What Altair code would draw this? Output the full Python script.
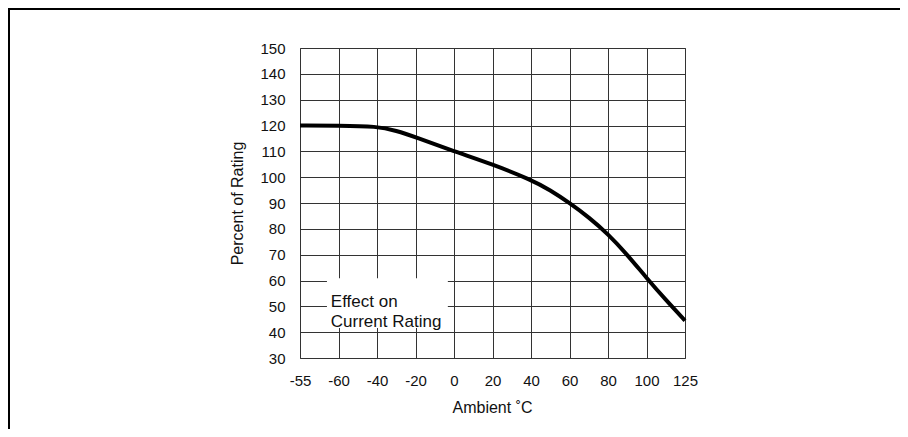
import altair as alt
import pandas as pd

# Axis tick labels (printed as in the original, equally spaced)
x_labels = ["-55", "-60", "-40", "-20", "0", "20", "40", "60", "80", "100", "125"]
x_positions = list(range(len(x_labels)))
y_ticks = list(range(30, 151, 10))

# Curve (x as position along the label grid)
curve_x = [0, 1, 2, 2.5, 3, 4, 5, 6, 6.5, 7, 7.5, 8, 8.5, 9, 9.5, 10]
curve_y = [120, 120, 119.7, 118, 115.5, 110, 105, 99, 95, 90, 84.5, 78, 70, 61, 52.5, 44.5]

# Annotation box and text
box_x = [0.70]
box_x2 = [3.84]
box_y = [41.6]
box_y2 = [60.9]
note_x = [0.8]
note_y = [51.5]
note_text = [["Effect on", "Current Rating"]]

FONT = "Liberation Sans"

curve_df = pd.DataFrame({"x": curve_x, "y": curve_y})
box_df = pd.DataFrame({"x": box_x, "x2": box_x2, "y": box_y, "y2": box_y2})
note_df = pd.DataFrame({"x": note_x, "y": note_y, "t": note_text})

label_array = "[" + ",".join("'" + s + "'" for s in x_labels) + "]"

x_scale = alt.Scale(domain=[0, 10], nice=False, zero=False)
y_scale = alt.Scale(domain=[30, 150], nice=False, zero=False)

x_axis = alt.Axis(
    values=x_positions,
    labelExpr=label_array + "[datum.value]",
    labelOverlap=False,
    labelFlush=False,
    title="Ambient \u02daC",
    tickSize=0,
    labelPadding=15,
    labelFontSize=15,
    titleFontSize=16,
    titleFontWeight="normal",
    titleX=192,
    titleY=49,
    titleBaseline="middle",
    titleAlign="center",
    grid=True,
)
y_axis = alt.Axis(
    values=y_ticks,
    labelOverlap=False,
    labelFlush=False,
    title="Percent of Rating",
    tickSize=0,
    labelPadding=15,
    labelFontSize=15,
    titleFontSize=16,
    titleFontWeight="normal",
    titleAngle=-90,
    titleX=-63,
    titleY=155,
    titleBaseline="middle",
    titleAlign="center",
    grid=True,
)

line = alt.Chart(curve_df).mark_line(
    color="black", strokeWidth=4, interpolate="basis"
).encode(
    x=alt.X("x:Q", scale=x_scale, axis=x_axis),
    y=alt.Y("y:Q", scale=y_scale, axis=y_axis),
)

box = alt.Chart(box_df).mark_rect(fill="white").encode(
    x=alt.X("x:Q", scale=x_scale, axis=x_axis),
    x2="x2:Q",
    y=alt.Y("y:Q", scale=y_scale, axis=y_axis),
    y2="y2:Q",
)

note = alt.Chart(note_df).mark_text(
    align="left", baseline="middle", fontSize=17, lineHeight=20, font=FONT, color="#111"
).encode(
    x=alt.X("x:Q", scale=x_scale, axis=x_axis),
    y=alt.Y("y:Q", scale=y_scale, axis=y_axis),
    text="t",
)

one = alt.Data(values=[{"a": 1}])
border_top = alt.Chart(one).mark_rule(color="black", strokeWidth=2).encode(
    x=alt.value(-292), x2=alt.value(700), y=alt.value(-39)
)
border_left = alt.Chart(one).mark_rule(color="black", strokeWidth=2).encode(
    x=alt.value(-291), y=alt.value(-40), y2=alt.value(500)
)

chart = alt.layer(box, line, note, border_top, border_left).properties(
    width=385,
    height=310,
    autosize=alt.AutoSizeParams(type="none"),
    padding={"left": 292, "top": 40, "right": 215, "bottom": 71},
    background="white",
).configure_view(
    stroke="#555", strokeWidth=1
).configure_axis(
    domain=False,
    gridColor="#333",
    gridWidth=1,
    gridOpacity=1,
    labelFont=FONT,
    titleFont=FONT,
    labelColor="#111",
    titleColor="#111",
)

chart.save("out.html", embed_options={"renderer": "svg", "actions": False})
